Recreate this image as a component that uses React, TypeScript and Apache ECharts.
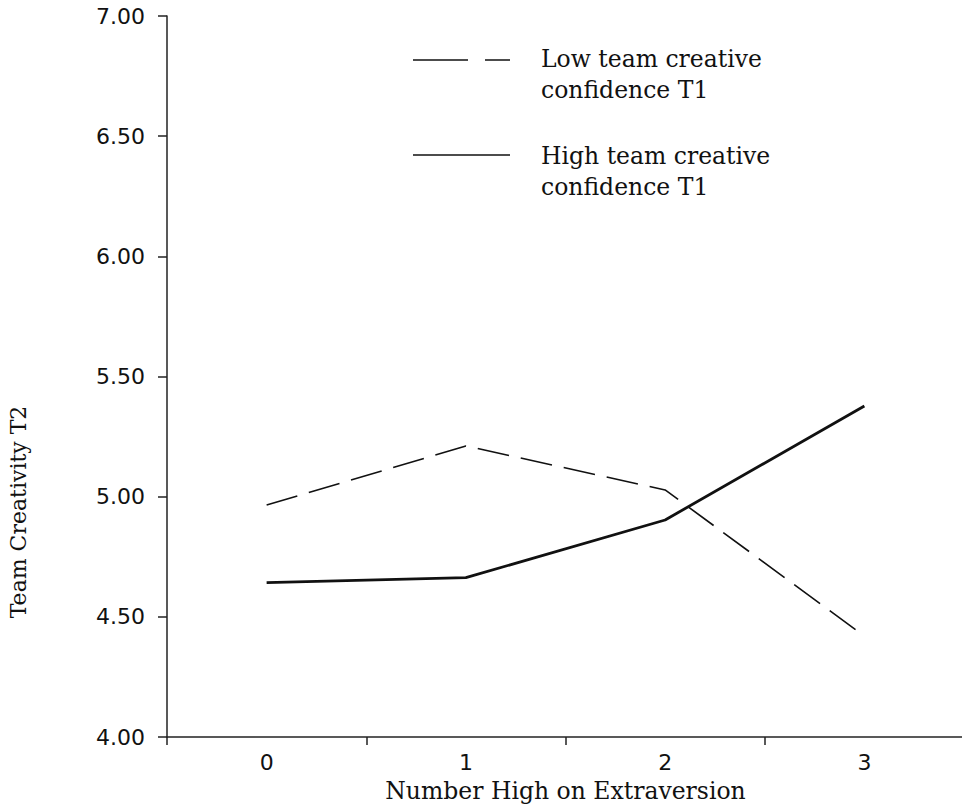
import React, { useEffect, useRef } from "react";
import * as echarts from "echarts";

const categories = ["0", "1", "2", "3"];
const lowConfidence = [4.965, 5.211, 5.028, 4.42];
const highConfidence = [4.642, 4.663, 4.903, 5.377];
const yTicks = { min: 4, max: 7, interval: 0.5 };

const serif = "DejaVu Serif";
const sans = "DejaVu Sans";

export default function App() {
  const ref = useRef<HTMLDivElement>(null);
  useEffect(() => {
    if (!ref.current) return;
    const chart = echarts.init(ref.current, null, { renderer: "svg" });
    chart.setOption({
      animation: false,
      backgroundColor: "#ffffff",
      grid: {
        left: 167,
        right: -2,
        top: 16,
        bottom: 70,
        containLabel: false,
        outerBoundsMode: "none",
      },
      xAxis: {
        type: "category",
        data: categories,
        boundaryGap: true,
        name: "Number High on Extraversion",
        nameLocation: "middle",
        nameGap: 42,
        nameTextStyle: { fontFamily: serif, fontSize: 23.5, color: "#111" },
        axisLine: { show: true, lineStyle: { color: "#222", width: 1.5 } },
        axisTick: { show: true, length: 8, lineStyle: { color: "#222", width: 1.5 } },
        axisLabel: { fontFamily: sans, fontSize: 22, color: "#111", margin: 14 },
        splitLine: { show: false },
      },
      yAxis: {
        type: "value",
        min: yTicks.min,
        max: yTicks.max,
        interval: yTicks.interval,
        axisLine: { show: true, lineStyle: { color: "#222", width: 1.5 } },
        axisTick: { show: true, length: 9, lineStyle: { color: "#222", width: 1.5 } },
        axisLabel: {
          fontFamily: sans,
          fontSize: 22,
          color: "#111",
          margin: 22,
          formatter: (v: number) => v.toFixed(2),
        },
        splitLine: { show: false },
      },
      series: [
        {
          name: "Low team creative confidence T1",
          type: "line",
          data: lowConfidence,
          symbol: "none",
          lineStyle: { color: "#111", width: 1.6, type: [32, 12] },
        },
        {
          name: "High team creative confidence T1",
          type: "line",
          data: highConfidence,
          symbol: "none",
          lineStyle: { color: "#111", width: 2.8 },
        },
      ],
      graphic: [
        {
          type: "line",
          shape: { x1: 413, y1: 60, x2: 468, y2: 60 },
          style: { stroke: "#111", lineWidth: 1.5 },
        },
        {
          type: "line",
          shape: { x1: 485, y1: 60, x2: 510, y2: 60 },
          style: { stroke: "#111", lineWidth: 1.5 },
        },
        {
          type: "line",
          shape: { x1: 413, y1: 155, x2: 510, y2: 155 },
          style: { stroke: "#111", lineWidth: 1.5 },
        },
        {
          type: "text",
          x: 541,
          y: 43.5,
          style: {
            text: "Low team creative\nconfidence T1",
            font: `23.5px '${serif}'`,
            fill: "#111",
            lineHeight: 31,
            verticalAlign: "top",
          },
        },
        {
          type: "text",
          x: 541,
          y: 140.5,
          style: {
            text: "High team creative\nconfidence T1",
            font: `23.5px '${serif}'`,
            fill: "#111",
            lineHeight: 31,
            verticalAlign: "top",
          },
        },
        {
          type: "text",
          x: 18,
          y: 512,
          rotation: Math.PI / 2,
          style: {
            text: "Team Creativity T2",
            font: `22px '${serif}'`,
            fill: "#111",
            align: "center",
            verticalAlign: "middle",
          },
        },
      ],
    });
    return () => chart.dispose();
  }, []);
  return (
    <div
      ref={ref}
      style={{ position: "fixed", left: 0, top: 0, width: 962, height: 807 }}
    />
  );
}
